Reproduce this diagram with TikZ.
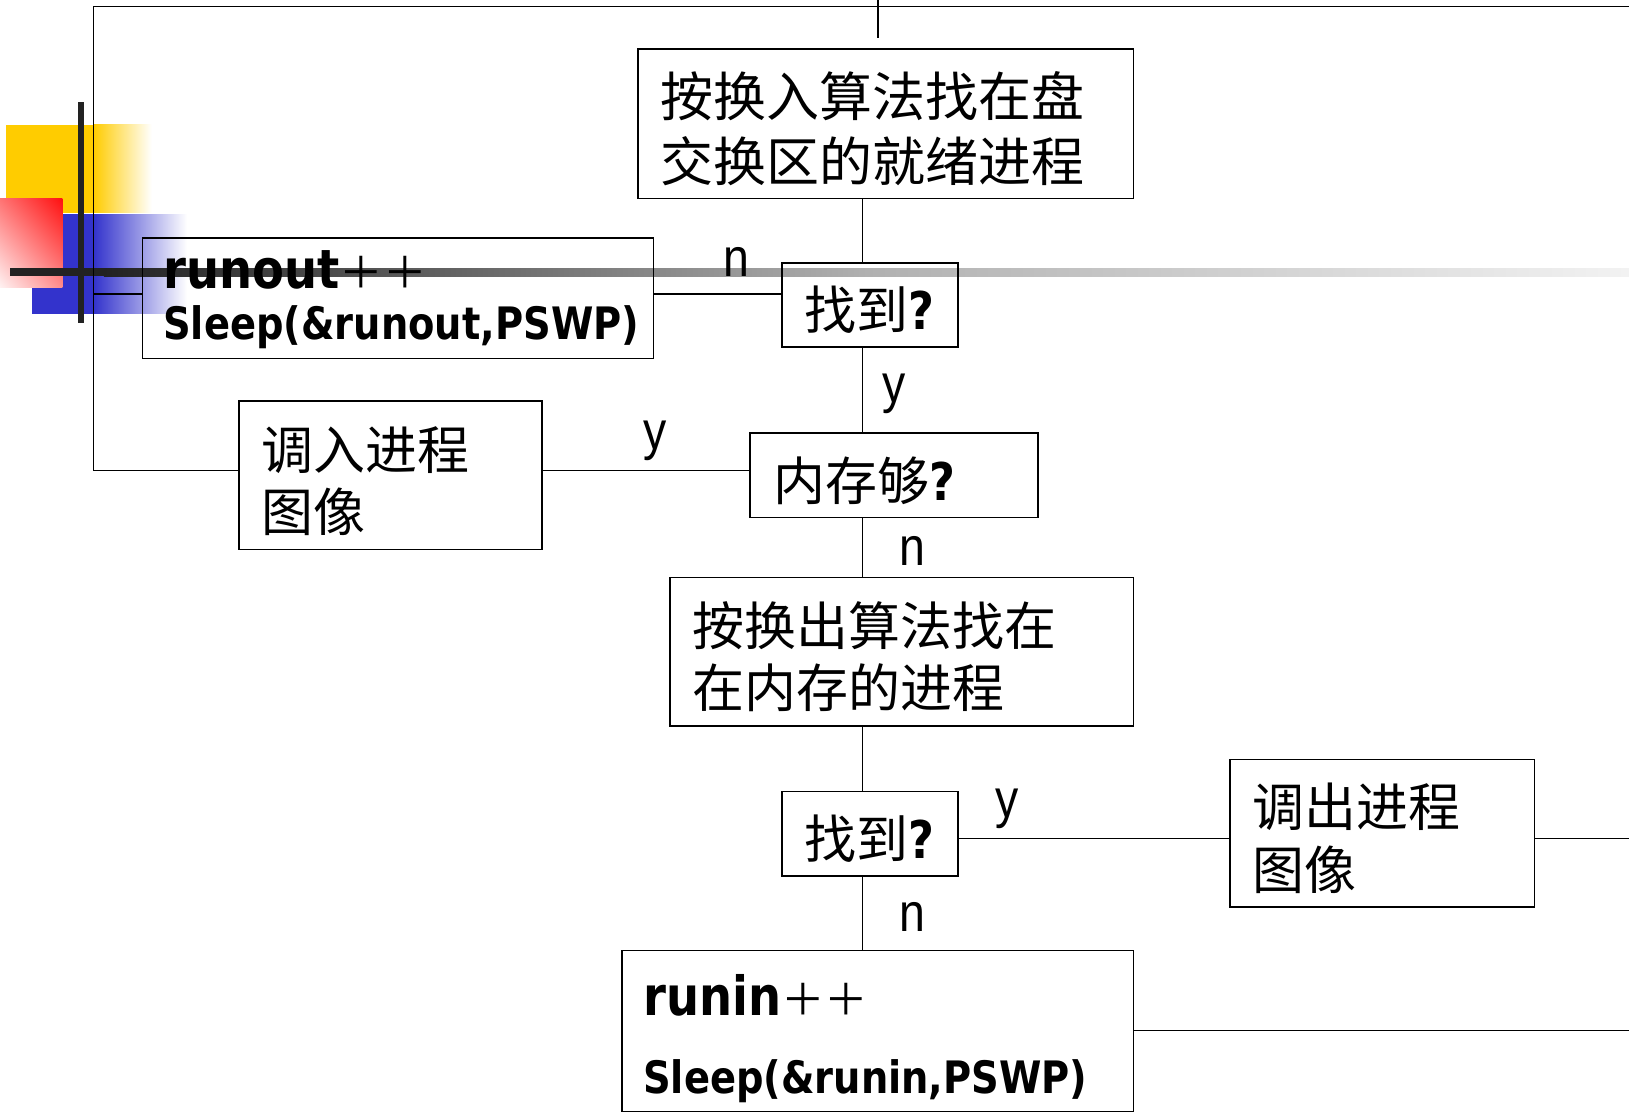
\documentclass[tikz,border=0pt]{standalone}
\usepackage{fontspec}
\usetikzlibrary{shadings}
\setmainfont{Liberation Sans}
\newfontfamily\cjk{Noto Sans CJK SC}
\newfontfamily\bsans[FakeStretch=0.86]{DejaVu Sans}
\newfontfamily\lblfont[FakeStretch=0.86]{Liberation Sans}
\newcommand\myplusses{{\cjk\mdseries\fontsize{42}{44}\selectfont ＋＋}}
\newcommand\tstrut{\rule{0pt}{1.04em}}
\definecolor{pyellow}{HTML}{FFCC00}
\definecolor{pblue}{HTML}{3333CC}
\definecolor{pred}{HTML}{FF1010}
\definecolor{barcol}{HTML}{222222}
\begin{document}
\begin{tikzpicture}[x=1pt,y=-1pt,
  box/.style={draw=black, line width=1.6pt, rectangle, outer sep=0pt, inner ysep=0pt, anchor=north west, align=left},
  cjkbox/.style={box, font=\cjk\fontsize{50}{60}\selectfont},
  conn/.style={line width=1.4pt},
  lbl/.style={font=\lblfont\fontsize{52}{60}\selectfont, inner sep=0pt},
  latinA/.style={font=\bsans\bfseries\fontsize{52}{60}\selectfont, inner sep=0pt, anchor=base west},
  latinB/.style={font=\bsans\bfseries\fontsize{43}{50}\selectfont, inner sep=0pt, anchor=base west}
]
\useasboundingbox (0,0) rectangle (1568,1071);
\clip (0,0) rectangle (1568,1071);
\fill[white] (0,0) rectangle (1568,1071);

% template decoration
\fill[pyellow] (6,120) rectangle (90,205);
\shade[left color=pyellow, right color=white] (90,120) rectangle (146,205);
\fill[pblue] (31,206) rectangle (90,302);
\shade[left color=pblue, right color=white] (90,206) rectangle (180,302);
\shade[upper left=red!55!white, upper right=pred, lower left=red!5!white, lower right=red!45!white] (0,191) rectangle (60,277);
\fill[barcol] (75,98) rectangle (81,311);
\fill[barcol] (10,258) rectangle (100,266);
\shade[left color=barcol, right color=white!95!black, middle color=white!69!black] (100,258) rectangle (1568,266);

% boxes
\node[cjkbox, font=\cjk\fontsize{51}{62}\selectfont, inner xsep=22pt, text width=433pt, minimum height=144pt] (b1) at (614,47) {\tstrut 按换入算法找在盘\\交换区的就绪进程};
\node[cjkbox, inner xsep=21pt, text width=127pt, minimum height=81pt] (f1) at (753,253) {\tstrut 找到{\bsans\bfseries ?}};
\node[box, minimum width=492pt, minimum height=116pt] (ro) at (137,229) {};
\node[cjkbox, inner xsep=23pt, text width=231pt, minimum height=81pt] (mq) at (722,417) {\tstrut 内存够{\bsans\bfseries ?}};
\node[cjkbox, inner xsep=22pt, text width=248pt, minimum height=143pt] (tr) at (230,386) {\tstrut 调入进程\\图像};
\node[cjkbox, inner xsep=22pt, text width=402pt, minimum height=143pt] (out) at (645,556) {\tstrut 按换出算法找在\\在内存的进程};
\node[cjkbox, inner xsep=21pt, text width=127pt, minimum height=81pt] (f2) at (753,762) {\tstrut 找到{\bsans\bfseries ?}};
\node[cjkbox, inner xsep=22pt, text width=249pt, minimum height=142pt] (tc) at (1184,731) {\tstrut 调出进程\\图像};
\node[box, minimum width=492pt, minimum height=155pt] (ri) at (599,915) {};

% texts in the Latin boxes
\node[latinA] (ro1) at (157,278) {runout\myplusses};
\node[latinB] (ro2) at (157,327) {Sleep(\&runout,PSWP)};
\node[latinA] (ri1) at (619,977) {runin\myplusses};
\node[latinB] (ri2) at (619,1053) {Sleep(\&runin,PSWP)};

% helper coordinates
\coordinate (sp) at (830,0);
\coordinate (topA) at (845,0);
\coordinate (topB) at (845,37);
\coordinate (TL) at (90,6);
\coordinate (TR) at (1568,6);
\coordinate (yA) at (0,283);
\coordinate (yB) at (0,453);
\coordinate (yC) at (0,807);
\coordinate (yD) at (0,992);
\coordinate (RC) at (1568,807);
\coordinate (RD) at (1568,992);

% connectors
\draw[conn] (topA) -- (topB);
\draw[conn] (TR) -- (TL) -- (TL |- yB) -- (tr.west |- yB);
\draw[conn] (TL |- yA) -- (ro.west |- yA);
\draw[conn] (f1.west |- yA) -- (ro.east |- yA);
\draw[conn] (b1.south -| sp) -- (f1.north -| sp);
\draw[conn] (f1.south -| sp) -- (mq.north -| sp);
\draw[conn] (mq.west |- yB) -- (tr.east |- yB);
\draw[conn] (mq.south -| sp) -- (out.north -| sp);
\draw[conn] (out.south -| sp) -- (f2.north -| sp);
\draw[conn] (f2.east |- yC) -- (tc.west |- yC);
\draw[conn] (tc.east |- yC) -- (RC);
\draw[conn] (f2.south -| sp) -- (ri.north -| sp);
\draw[conn] (ri.east |- yD) -- (RD);

% branch labels
\node[lbl] (l1) at (709,252) {n};
\node[lbl] (l2) at (861,379) {y};
\node[lbl] (l3) at (631,424) {y};
\node[lbl] (l4) at (878,530) {n};
\node[lbl] (l5) at (969,779) {y};
\node[lbl] (l6) at (878,883) {n};
\end{tikzpicture}
\end{document}
